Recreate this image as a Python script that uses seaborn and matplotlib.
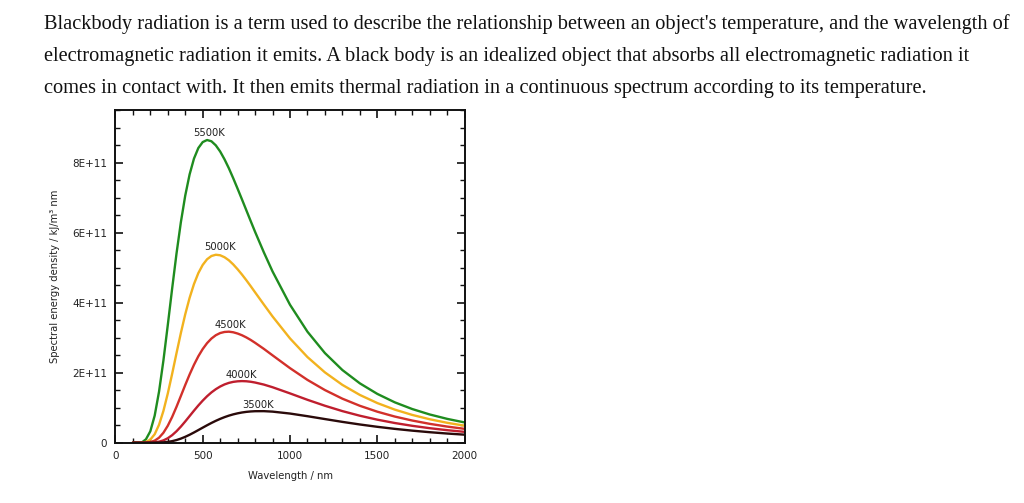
import matplotlib
matplotlib.use("Agg")
import matplotlib.pyplot as plt
import seaborn as sns
import pandas as pd
from matplotlib.ticker import MultipleLocator

# ---- data, energy values in units of 1E+11 ----
wavelength = [100, 150, 175, 200, 225, 250, 275, 300, 325, 350, 375, 400, 425, 450, 475, 500,
              525, 550, 575, 600, 625, 650, 675, 700, 725, 750, 775, 800, 850, 900,
              1000, 1100, 1200, 1300, 1400, 1500, 1600, 1700, 1800, 1900, 2000]

t5500 = [0.0, 0.0018, 0.098, 0.326, 0.7731, 1.460, 2.347, 3.358, 4.401, 5.401, 6.297, 7.056,
         7.661, 8.112, 8.414, 8.584, 8.643, 8.607, 8.491, 8.315, 8.091, 7.835, 7.550, 7.251,
         6.946, 6.636, 6.327, 6.021, 5.438, 4.890,
         3.939, 3.169, 2.559, 2.075, 1.695, 1.394, 1.153, 0.9615, 0.8065, 0.6809, 0.5784]
t5000 = [0.0, 0.0003, 0.022, 0.0881, 0.2417, 0.5128, 0.9066, 1.404, 1.967, 2.557, 3.133, 3.667,
         4.136, 4.529, 4.843, 5.076, 5.238, 5.331, 5.367, 5.352, 5.296, 5.208, 5.090, 4.952,
         4.801, 4.639, 4.469, 4.294, 3.947, 3.605,
         2.978, 2.445, 2.008, 1.651, 1.364, 1.132, 0.9447, 0.7934, 0.6697, 0.5686, 0.4854]
t4500 = [0.0, 0.0, 0.0035, 0.0178, 0.0584, 0.1428, 0.2835, 0.4836, 0.7356, 1.0255, 1.3355, 1.648,
         1.948, 2.224, 2.468, 2.674, 2.843, 2.974, 3.069, 3.131, 3.162, 3.170, 3.153, 3.117,
         3.068, 3.006, 2.934, 2.853, 2.680, 2.495,
         2.129, 1.793, 1.503, 1.257, 1.054, 0.8856, 0.7468, 0.6329, 0.5385, 0.4604, 0.3955]
t4000 = [0.0, 0.0, 0.0, 0.0024, 0.0099, 0.0289, 0.0663, 0.1276, 0.2150, 0.3273, 0.4599, 0.6066,
         0.7604, 0.9145, 1.063, 1.201, 1.3264, 1.436, 1.528, 1.604, 1.664, 1.708, 1.737, 1.753,
         1.759, 1.754, 1.740, 1.718, 1.660, 1.584,
         1.408, 1.225, 1.055, 0.9021, 0.7703, 0.6577, 0.5622, 0.4821, 0.4145, 0.3576, 0.3097]
t3500 = [0.0, 0.0, 0.0, 0.0, 0.001, 0.0037, 0.0102, 0.0230, 0.0442, 0.0754, 0.1168, 0.1678,
         0.2269, 0.2918, 0.3602, 0.4295, 0.4980, 0.5635, 0.6246, 0.6803, 0.7298, 0.7730, 0.8092,
         0.8388, 0.8626, 0.8803, 0.8923, 0.8992, 0.9007, 0.8874,
         0.8325, 0.7567, 0.6750, 0.5946, 0.5204, 0.4538, 0.3950, 0.3440, 0.2999, 0.2619, 0.2292]

UNIT = 1e11
series_names = ["5500K", "5000K", "4500K", "4000K", "3500K"]
series_values = [t5500, t5000, t4500, t4000, t3500]
series_colors = ["#1f8c1f", "#f2b21e", "#d2302a", "#bf1e2e", "#2a0a0a"]
label_x = [536, 599, 656, 723, 820]
label_y = [8.85, 5.59, 3.35, 1.93, 1.08]

x_ticks = [0, 500, 1000, 1500, 2000]
y_ticks = [0, 2, 4, 6, 8]
y_tick_labels = ["0", "2E+11", "4E+11", "6E+11", "8E+11"]

paragraph = [
    "Blackbody radiation is a term used to describe the relationship between an object's temperature, and the wavelength of",
    "electromagnetic radiation it emits. A black body is an idealized object that absorbs all electromagnetic radiation it",
    "comes in contact with. It then emits thermal radiation in a continuous spectrum according to its temperature.",
]

# ---- build long-form frame ----
rows = []
for name, vals in zip(series_names, series_values):
    for w, v in zip(wavelength, vals):
        rows.append({"Wavelength": w, "Energy": v * UNIT, "Temperature": name})
df = pd.DataFrame(rows)

sns.set_theme(style="white")
plt.rcParams["font.family"] = ["DejaVu Sans"]

W, H = 1024, 503
fig = plt.figure(figsize=(W / 100, H / 100), dpi=100)
ax = fig.add_axes([115.4 / W, 1 - 442.7 / H, (464.6 - 115.4) / W, (442.7 - 110) / H])

sns.lineplot(data=df, x="Wavelength", y="Energy", hue="Temperature",
             palette=dict(zip(series_names, series_colors)), hue_order=series_names,
             linewidth=1.7, ax=ax, legend=False, sort=True, estimator=None)

for name, lx, ly in zip(series_names, label_x, label_y):
    ax.text(lx, ly * UNIT, name, ha="center", va="center", fontsize=7.2, color="#222222")

ax.set_xlim(0, 2000)
ax.set_ylim(0, 9.5 * UNIT)
ax.set_xticks(x_ticks)
ax.set_yticks([t * UNIT for t in y_ticks])
ax.set_yticklabels(y_tick_labels)
ax.xaxis.set_minor_locator(MultipleLocator(100))
ax.yaxis.set_minor_locator(MultipleLocator(0.5 * UNIT))
ax.tick_params(which="both", direction="in", top=True, right=True, bottom=True, left=True,
               color="#111111", labelsize=7.5, labelcolor="#222222")
ax.tick_params(which="major", length=6, width=1.2, pad=6)
ax.tick_params(which="minor", length=3.5, width=1.0)
for s in ax.spines.values():
    s.set_color("#111111")
    s.set_linewidth(1.4)
ax.set_xlabel("Wavelength / nm", fontsize=7.2, color="#222222", labelpad=7)
ax.set_ylabel("Spectral energy density / kJ/m³ nm", fontsize=7.2, color="#222222", labelpad=9)

# paragraph text
baselines = [28.5, 60.5, 93.0]
for line, b in zip(paragraph, baselines):
    fig.text(44 / W, 1 - b / H, line, ha="left", va="baseline",
             fontsize=14.65, family="Liberation Serif", color="#111111")

fig.savefig("out.png", dpi=100, facecolor="white")
